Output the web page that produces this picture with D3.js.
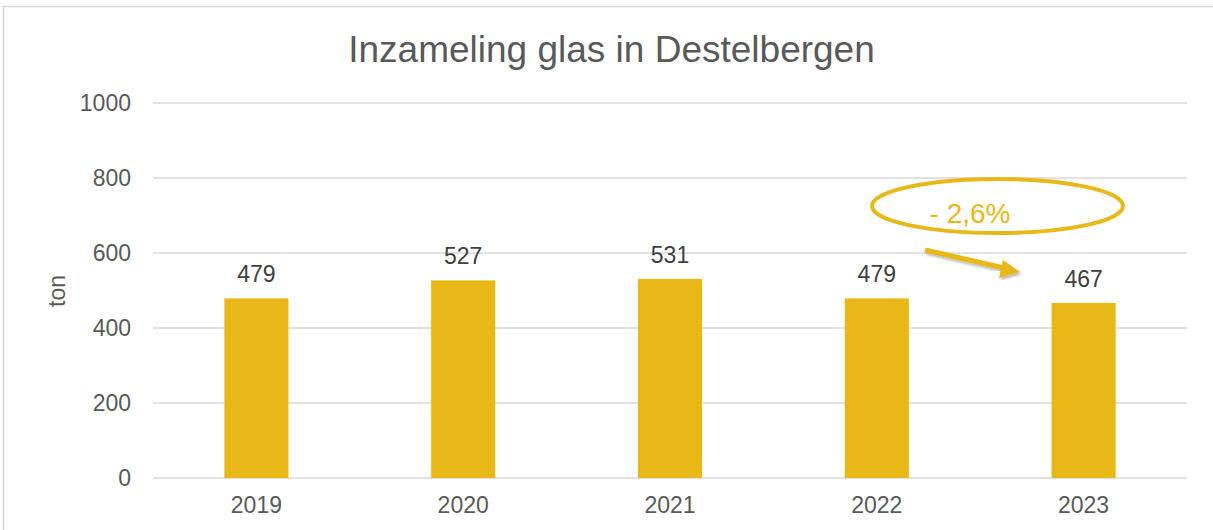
<!DOCTYPE html>
<html>
<head>
<meta charset="utf-8">
<script src="https://cdn.jsdelivr.net/npm/d3@7"></script>
<style>
  body { margin: 0; background: #fff; }
  svg { display: block; }
</style>
</head>
<body>
<div class="chart"></div>
<script>
const years = ["2019", "2020", "2021", "2022", "2023"];
const tonnage = [479, 527, 531, 479, 467];
const y_ticks = [0, 200, 400, 600, 800, 1000];
const change_label = "- 2,6%";

const dims = { width: 1213, height: 530 };
const margin = { top: 103, right: 26, bottom: 52, left: 153 };
const gold = "#E8B818";
const grey_text = "#595959";
const font = "'Liberation Sans', Arial, sans-serif";

var svg = d3.select(".chart")
            .append("svg")
            .attr("width", dims.width)
            .attr("height", dims.height);

// chart frame, runs off the right and bottom edges like the original
svg.append("rect")
   .attr("x", 3.5).attr("y", 6.5)
   .attr("width", dims.width + 10).attr("height", dims.height + 10)
   .attr("fill", "none")
   .attr("stroke", "#D9D9D9")
   .attr("stroke-width", 1.5);

var x = d3.scaleBand()
          .domain(years)
          .range([margin.left, dims.width - margin.right])
          .paddingInner(0.69)
          .paddingOuter(0.345);

var y = d3.scaleLinear()
          .domain([0, 1000])
          .range([dims.height - margin.bottom, margin.top]);

// gridlines
svg.selectAll(".grid").data(y_ticks).enter().append("line")
   .attr("x1", margin.left).attr("x2", dims.width - margin.right)
   .attr("y1", d => y(d)).attr("y2", d => y(d))
   .attr("stroke", "#D9D9D9")
   .attr("stroke-width", 1.5);

// y tick labels
svg.selectAll(".ytick").data(y_ticks).enter().append("text")
   .attr("x", 131)
   .attr("y", d => y(d) + 8)
   .attr("text-anchor", "end")
   .attr("font-family", font)
   .attr("font-size", 23)
   .style("fill", grey_text)
   .text(d => d);

// bars
svg.selectAll(".bar").data(tonnage).enter().append("rect")
   .attr("x", (d, i) => x(years[i]))
   .attr("y", d => y(d))
   .attr("width", x.bandwidth())
   .attr("height", d => y(0) - y(d))
   .attr("fill", gold);

// value labels
svg.selectAll(".val").data(tonnage).enter().append("text")
   .attr("x", (d, i) => x(years[i]) + x.bandwidth() / 2)
   .attr("y", d => y(d) - 16)
   .attr("text-anchor", "middle")
   .attr("font-family", font)
   .attr("font-size", 23)
   .style("fill", "#404040")
   .text(d => d);

// x axis labels
svg.selectAll(".xtick").data(years).enter().append("text")
   .attr("x", d => x(d) + x.bandwidth() / 2)
   .attr("y", 513)
   .attr("text-anchor", "middle")
   .attr("font-family", font)
   .attr("font-size", 23)
   .style("fill", grey_text)
   .text(d => d);

// title
svg.append("text")
   .attr("x", 611.5).attr("y", 62)
   .attr("text-anchor", "middle")
   .attr("font-family", font)
   .attr("font-size", 37)
   .style("fill", grey_text)
   .text("Inzameling glas in Destelbergen");

// y axis title
svg.append("text")
   .attr("transform", "translate(65,291) rotate(-90)")
   .attr("text-anchor", "middle")
   .attr("font-family", font)
   .attr("font-size", 23)
   .style("fill", grey_text)
   .text("ton");

// annotation: ellipse with percentage and arrow
svg.append("ellipse")
   .attr("cx", 997.5).attr("cy", 206)
   .attr("rx", 125.5).attr("ry", 27)
   .attr("fill", "none")
   .attr("stroke", gold)
   .attr("stroke-width", 4);

svg.append("text")
   .attr("x", 970).attr("y", 223)
   .attr("text-anchor", "middle")
   .attr("font-family", font)
   .attr("font-size", 28)
   .style("fill", gold)
   .text(change_label);

svg.append("defs").append("filter").attr("id", "shadow")
   .append("feDropShadow")
   .attr("dx", 1.5).attr("dy", 2).attr("stdDeviation", 1.5)
   .attr("flood-color", "#000").attr("flood-opacity", 0.3);

svg.append("line")
   .attr("x1", 925).attr("y1", 250)
   .attr("x2", 1006).attr("y2", 268.5)
   .attr("stroke", gold)
   .attr("stroke-width", 5)
   .attr("filter", "url(#shadow)");

svg.append("polygon")
   .attr("points", "1020,272 1003,260 999,278")
   .attr("fill", gold)
   .attr("filter", "url(#shadow)");
</script>
</body>
</html>
